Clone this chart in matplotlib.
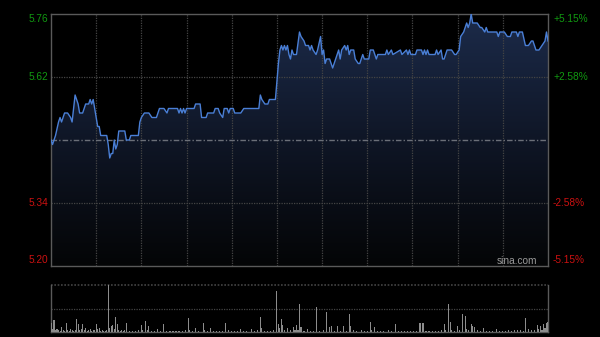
import numpy as np
import matplotlib
matplotlib.use('Agg')
import matplotlib.pyplot as plt
from matplotlib.colors import LinearSegmentedColormap

PREV_CLOSE = 5.48
PRICE_TICKS = [5.76, 5.62, 5.34, 5.20]
PCT_LABELS = ['+5.15%', '+2.58%', '-2.58%', '-5.15%']

# minute index (0..330, HK session 09:30-12:00 + 13:00-16:00) and price
MINUTES = [0, 1, 2, 3, 5, 6, 7, 9, 11, 13, 14, 16, 18, 19, 21, 23, 25, 26, 27, 28,
           29, 30, 31, 32, 33, 37, 38, 39, 40, 41, 42, 43, 44, 45, 49, 50, 52, 53, 58, 59,
           60, 62, 65, 67, 70, 72, 75, 77, 78, 84, 85, 86, 87, 88, 89, 90, 95, 96, 99, 100,
           103, 104, 108, 109, 111, 112, 114, 115, 117, 118, 119, 121, 122, 126, 128, 138, 139, 140, 142, 144,
           145, 149, 150, 151, 152, 153, 154, 155, 156, 157, 158, 159, 160, 161, 163, 165, 166, 168, 169, 171,
           172, 173, 174, 176, 177, 179, 180, 181, 182, 183, 185, 187, 189, 190, 191, 192, 193, 195, 196, 197,
           198, 199, 201, 202, 204, 205, 207, 208, 211, 212, 214, 216, 217, 222, 223, 224, 226, 227, 232, 233,
           236, 237, 238, 239, 242, 243, 246, 247, 248, 249, 250, 251, 255, 256, 257, 259, 260, 261, 263, 266,
           268, 269, 271, 272, 274, 275, 276, 277, 278, 279, 280, 283, 285, 286, 288, 289, 290, 296, 297, 298,
           301, 303, 305, 306, 309, 310, 311, 313, 315, 317, 319, 320, 322, 324, 326, 328, 329, 330]
PRICES = [5.48, 5.47, 5.48, 5.49, 5.52, 5.53, 5.52, 5.54, 5.54, 5.53, 5.52, 5.58, 5.56, 5.54, 5.54, 5.56, 5.56, 5.57, 5.56, 5.57,
          5.55, 5.53, 5.51, 5.51, 5.49, 5.49, 5.47, 5.44, 5.45, 5.45, 5.48, 5.46, 5.47, 5.50, 5.50, 5.48, 5.48, 5.49, 5.49, 5.52,
          5.53, 5.54, 5.54, 5.53, 5.53, 5.55, 5.55, 5.54, 5.55, 5.55, 5.54, 5.55, 5.54, 5.55, 5.54, 5.55, 5.55, 5.56, 5.56, 5.53,
          5.53, 5.54, 5.54, 5.55, 5.55, 5.54, 5.53, 5.55, 5.55, 5.54, 5.55, 5.55, 5.54, 5.54, 5.55, 5.55, 5.58, 5.57, 5.56, 5.56,
          5.57, 5.57, 5.61, 5.65, 5.68, 5.69, 5.68, 5.69, 5.68, 5.69, 5.67, 5.66, 5.68, 5.67, 5.67, 5.72, 5.71, 5.70, 5.69, 5.69,
          5.68, 5.69, 5.68, 5.67, 5.68, 5.71, 5.67, 5.68, 5.65, 5.66, 5.66, 5.64, 5.66, 5.67, 5.68, 5.66, 5.68, 5.69, 5.68, 5.69,
          5.67, 5.68, 5.68, 5.66, 5.65, 5.65, 5.67, 5.66, 5.66, 5.68, 5.68, 5.66, 5.67, 5.67, 5.68, 5.67, 5.68, 5.67, 5.68, 5.67,
          5.68, 5.67, 5.68, 5.67, 5.67, 5.68, 5.68, 5.67, 5.68, 5.67, 5.68, 5.67, 5.67, 5.68, 5.67, 5.68, 5.66, 5.66, 5.68, 5.68,
          5.67, 5.67, 5.68, 5.71, 5.72, 5.73, 5.74, 5.73, 5.74, 5.76, 5.74, 5.74, 5.73, 5.73, 5.72, 5.73, 5.72, 5.72, 5.71, 5.72,
          5.72, 5.71, 5.71, 5.72, 5.72, 5.71, 5.72, 5.72, 5.69, 5.69, 5.70, 5.70, 5.68, 5.68, 5.69, 5.70, 5.72, 5.70]

# volume, relative units (panel top = 100)
VOL_MIN = [0, 1, 2, 3, 4, 5, 6, 7, 8, 9, 10, 11, 12, 13, 14, 15, 16, 17, 18, 19,
           20, 21, 22, 23, 24, 25, 26, 27, 28, 29, 30, 31, 32, 33, 34, 35, 36, 37, 38, 39,
           40, 41, 42, 43, 44, 45, 46, 47, 48, 49, 50, 52, 54, 56, 58, 60, 61, 63, 64, 65,
           67, 69, 71, 73, 75, 77, 79, 81, 83, 85, 87, 89, 91, 92, 94, 96, 98, 101, 102, 104,
           106, 108, 110, 112, 114, 116, 118, 120, 122, 124, 126, 128, 130, 133, 135, 137, 139, 140, 142, 144,
           146, 148, 150, 151, 152, 153, 154, 155, 157, 159, 161, 162, 163, 164, 165, 166, 168, 170, 172, 174,
           176, 178, 181, 183, 185, 186, 188, 190, 192, 194, 196, 198, 199, 201, 203, 206, 208, 210, 212, 213,
           215, 217, 219, 221, 224, 226, 229, 231, 233, 235, 237, 239, 241, 243, 245, 247, 249, 251, 253, 255,
           257, 259, 261, 262, 264, 265, 266, 268, 270, 271, 273, 275, 276, 277, 279, 280, 281, 283, 285, 287,
           289, 291, 293, 296, 298, 300, 302, 304, 306, 308, 310, 312, 314, 315, 317, 319, 321, 323, 324, 325,
           326, 327, 328, 329, 330]
VOLUMES = [20, 6, 25, 5, 7, 4, 3, 11, 4, 3, 20, 5, 3, 7, 4, 3, 5, 27, 16, 4,
           6, 18, 4, 9, 3, 5, 7, 3, 4, 5, 18, 6, 9, 3, 4, 3, 2, 4, 100, 8,
           12, 14, 6, 32, 18, 5, 3, 4, 3, 5, 20, 3, 2, 3, 4, 14, 5, 23, 4, 13,
           3, 2, 7, 3, 16, 3, 2, 3, 2, 3, 2, 4, 30, 5, 3, 9, 3, 20, 4, 3,
           9, 2, 3, 2, 3, 20, 4, 2, 3, 2, 7, 3, 2, 7, 3, 4, 32, 8, 3, 2,
           3, 4, 87, 16, 8, 28, 14, 5, 9, 4, 11, 5, 14, 4, 60, 10, 3, 7, 3, 2,
           53, 3, 5, 43, 10, 12, 3, 13, 3, 12, 3, 39, 13, 4, 3, 5, 2, 3, 21, 4,
           10, 3, 2, 3, 4, 2, 18, 3, 2, 3, 2, 3, 2, 3, 19, 19, 3, 2, 3, 2,
           3, 4, 18, 5, 60, 21, 4, 3, 12, 4, 39, 35, 6, 4, 18, 13, 10, 4, 3, 9,
           3, 2, 3, 7, 3, 2, 3, 4, 3, 4, 5, 4, 3, 30, 7, 4, 5, 15, 6, 12,
           5, 18, 8, 20, 22]

W, H = 600, 337
BORDER = '#5a5a5a'
GRID = '#444444'
GREEN = '#119911'
RED = '#cc1111'
LINE = '#4a7fd6'

fig = plt.figure(figsize=(W / 100, H / 100), dpi=100, facecolor='black')

def px_axes(left, top, right, bottom):
    return fig.add_axes([left / W, 1 - bottom / H, (right - left) / W, (bottom - top) / H])

# --- price panel ---
ax = px_axes(51, 14, 548, 266)
ax.set_facecolor('black')
ax.set_xlim(0, 330)
ax.set_ylim(5.20, 5.76)

cmap = LinearSegmentedColormap.from_list('fill', ['#1c2b4a', '#0f1626', '#040506'])
grad = np.linspace(0, 1, 256).reshape(-1, 1)
img = ax.imshow(grad, cmap=cmap, aspect='auto', extent=[0, 330, 5.20, 5.76],
                origin='upper', zorder=1)
poly = ax.fill_between(MINUTES, PRICES, 5.20, color='none', zorder=1)
img.set_clip_path(poly.get_paths()[0], transform=ax.transData)

for m in range(30, 330, 30):
    ax.axvline(m, color=GRID, lw=0.9, ls=(0, (1, 1)), zorder=2)
for p in (5.62, 5.34):
    ax.axhline(p, color=GRID, lw=0.9, ls=(0, (1, 1)), zorder=2)
ax.axhline(PREV_CLOSE, color='#6b6f78', lw=1.0, ls=(0, (4, 1.5, 1, 1.5)), zorder=2)

ax.plot(MINUTES, PRICES, color=LINE, lw=1.0, zorder=3)

for s in ax.spines.values():
    s.set_color(BORDER)
    s.set_linewidth(1.0)
ax.set_xticks([])
ax.set_yticks([])

# axis labels, outer ones nudged inside the panel
offsets = [5, 0, 0, -6]
for p, pct, dy in zip(PRICE_TICKS, PCT_LABELS, offsets):
    col = GREEN if p > PREV_CLOSE else RED
    y = 14 + (5.76 - p) * 450 + dy
    fig.text(48 / W, 1 - y / H, f'{p:.2f}', color=col, fontsize=7.3,
             ha='right', va='center', family='Liberation Sans')
    fig.text(553 / W, 1 - y / H, pct, color=col, fontsize=7.3,
             ha='left', va='center', family='Liberation Sans')

ax.text(537 / W, 1 - 261 / H, 'sina.com', transform=fig.transFigure, color='#9a9a9a',
        fontsize=7.3, ha='right', va='center', family='Liberation Sans', zorder=4)

# --- volume panel ---
vax = px_axes(51, 285, 548, 332)
vax.set_facecolor('black')
vax.set_xlim(0, 330)
vax.set_ylim(0, 100)
vax.bar(VOL_MIN, VOLUMES, width=0.7, color='#8c8c8c', linewidth=0, zorder=3)
vax.axhline(50, color=GRID, lw=0.9, ls=(0, (1, 1)))
vax.axhline(100, color=GRID, lw=1.2, ls=(0, (1, 1)), clip_on=False)
vax.spines['top'].set_visible(False)
for k in ('left', 'right', 'bottom'):
    vax.spines[k].set_color(BORDER)
    vax.spines[k].set_linewidth(1.0)
vax.set_xticks([])
vax.set_yticks([])

fig.savefig('out.png', dpi=100, facecolor='black')
